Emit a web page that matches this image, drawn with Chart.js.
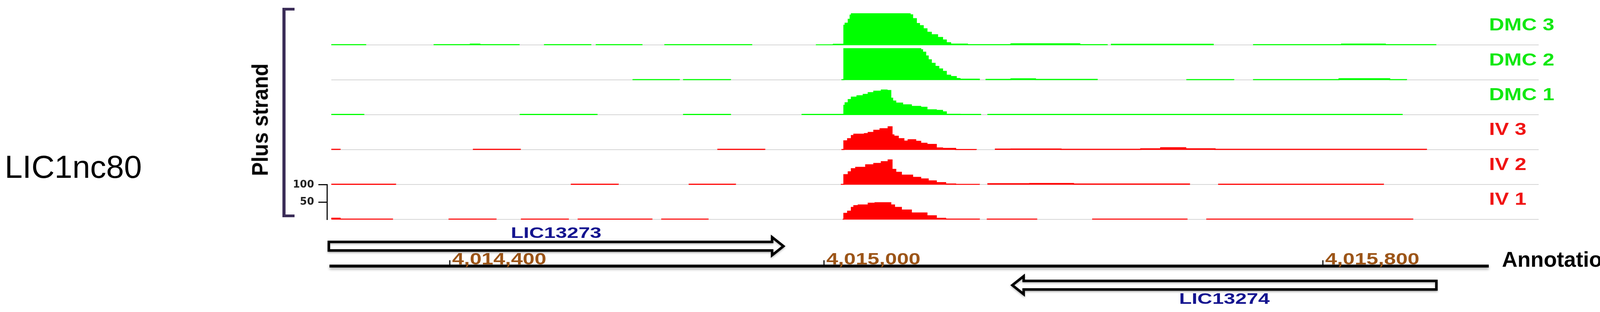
<!DOCTYPE html>
<html lang="en">
  <head>
    <meta charset="UTF-8" />
    <title>LIC1nc80 coverage</title>
    <script src="https://cdn.jsdelivr.net/npm/chart.js"></script>
    <style>
      body {
        margin: 0;
        background: #fff;
      }

      .page {
        position: relative;
        width: 4148px;
        height: 800px;
        overflow: hidden;
        font-family: "Liberation Sans", Arial, sans-serif;
      }

      .chart-box {
        position: absolute;
        left: 0;
        top: 0;
        width: 4148px;
        height: 800px;
      }

      .label {
        position: absolute;
        line-height: 1;
        white-space: nowrap;
        color: #000;
      }

      .rna-name {
        left: 12px;
        top: 387px;
        font-size: 82px;
      }

      .strand {
        left: 666px;
        top: 307px;
        font-size: 57px;
        font-weight: bold;
        transform: translate(-50%, -50%) rotate(-90deg) scaleX(0.93);
      }

      .anno {
        left: 3845px;
        top: 638px;
        font-size: 55px;
        font-weight: bold;
      }

      .bracket {
        position: absolute;
        left: 723px;
        top: 20px;
        width: 31px;
        height: 537px;
        box-sizing: border-box;
        border: 7px solid #3b2d58;
        border-left-width: 8px;
        border-right: none;
      }
    </style>
  </head>
  <body>
    <div class="page">
      <div class="chart-box"><canvas id="coverageChart"></canvas></div>
      <div class="label rna-name">LIC1nc80</div>
      <div class="label strand">Plus strand</div>
      <div class="bracket"></div>
      <div class="label anno">Annotation</div>
    </div>

    <script>
      // Region shown and annotation
      const viewStart = 4014203;
      const viewEnd = 4016146;
      const trackStart = 4014210;
      const trackEnd = 4016146;
      const axisStart = 4014207;
      const axisEnd = 4016066;
      const tickValues = [4014400, 4015000, 4015800];
      const scaleTicks = [50, 100];

      const trackNames = ["DMC 3", "DMC 2", "DMC 1", "IV 3", "IV 2", "IV 1"];

      const geneNames = ["LIC13273", "LIC13274"];
      const geneStarts = [4014206, 4015302];
      const geneEnds = [4014935, 4015982];
      const geneStrands = ["+", "-"];

      // Coverage, [position, value] steps (value holds until next position)
      const dmc3 = [
        [4014210, 1.5], [4014265, 0], [4014374, 1.5], [4014433, 3], [4014448, 1.5],
        [4014511, 0], [4014551, 1.5], [4014626, 0], [4014634, 1.5], [4014708, 0],
        [4014744, 1.5], [4014884, 0], [4014987, 1], [4015015, 2.5], [4015032, 57],
        [4015034, 63], [4015039, 74], [4015042, 86], [4015044, 90], [4015138, 87],
        [4015142, 76], [4015148, 62], [4015153, 56], [4015159, 47], [4015165, 37],
        [4015172, 30], [4015182, 22], [4015190, 15], [4015196, 7], [4015203, 3],
        [4015230, 1.5], [4015300, 4], [4015410, 1.5], [4015454, 0], [4015460, 2.5],
        [4015624, 0], [4015688, 1.5], [4015830, 3], [4015900, 1.5], [4015981, 0],
        [4016146, 0],
      ];
      const dmc2 = [
        [4014210, 0], [4014693, 1.5], [4014768, 0], [4014774, 1.5], [4014850, 0],
        [4015028, 1.5], [4015032, 90], [4015155, 87], [4015158, 80], [4015163, 69],
        [4015167, 58], [4015172, 48], [4015178, 39], [4015184, 32], [4015190, 25],
        [4015196, 14], [4015203, 10], [4015212, 4.5], [4015218, 2.5], [4015249, 0],
        [4015259, 2], [4015300, 3.5], [4015339, 2], [4015438, 0], [4015581, 1.5],
        [4015657, 0], [4015688, 1.5], [4015826, 4], [4015907, 1.5], [4015934, 0],
        [4016146, 0],
      ];
      const dmc1 = [
        [4014210, 1.5], [4014262, 0], [4014512, 1.5], [4014636, 0], [4014774, 1.5],
        [4014850, 0], [4014964, 1.5], [4015032, 27.5], [4015034, 35], [4015039, 44],
        [4015044, 51], [4015053, 55], [4015063, 59], [4015071, 64], [4015080, 68],
        [4015092, 71.5], [4015101, 70], [4015107, 48], [4015110, 40], [4015115, 34],
        [4015126, 29], [4015140, 24.5], [4015155, 22], [4015165, 14.7], [4015180, 13],
        [4015190, 9], [4015196, 2], [4015218, 1.5], [4015251, 0], [4015262, 1.5],
        [4015927, 0], [4016146, 0],
      ];
      const iv3 = [
        [4014210, 1.5], [4014224, 0], [4014437, 1.5], [4014513, 0], [4014829, 1.5],
        [4014905, 0], [4015028, 1], [4015032, 26], [4015038, 32], [4015044, 41],
        [4015048, 45], [4015065, 46.5], [4015071, 50], [4015080, 56], [4015090, 60.5],
        [4015103, 66], [4015109, 43], [4015112, 39], [4015119, 32], [4015128, 25],
        [4015135, 29], [4015147, 24.5], [4015155, 19], [4015165, 15.4], [4015180, 5.5],
        [4015190, 4], [4015211, 1], [4015244, 0], [4015274, 2], [4015300, 2.5],
        [4015380, 1.5], [4015508, 3], [4015540, 6], [4015580, 3], [4015627, 1.5],
        [4015966, 0], [4016146, 0],
      ];
      const iv2 = [
        [4014210, 1.5], [4014313, 0], [4014594, 1.5], [4014670, 0], [4014783, 1.5],
        [4014858, 0], [4015027, 1], [4015032, 29], [4015039, 37], [4015044, 46],
        [4015051, 50], [4015067, 57], [4015080, 61], [4015092, 66], [4015103, 71],
        [4015109, 44], [4015115, 35.5], [4015124, 27.5], [4015142, 21], [4015155, 16.5],
        [4015167, 11], [4015180, 6], [4015195, 2], [4015211, 1], [4015249, 0],
        [4015262, 3], [4015330, 3.5], [4015400, 2], [4015586, 0], [4015632, 1.5],
        [4015897, 0], [4016146, 0],
      ];
      const iv1 = [
        [4014210, 4], [4014224, 1.5], [4014308, 0], [4014398, 1.5], [4014474, 0],
        [4014514, 1.5], [4014590, 0], [4014605, 1.5], [4014724, 0], [4014739, 1.5],
        [4014814, 0], [4015030, 1], [4015032, 18], [4015038, 24], [4015044, 35],
        [4015048, 40], [4015055, 42], [4015071, 47], [4015082, 48.4], [4015107, 42],
        [4015113, 35], [4015124, 27.5], [4015140, 19], [4015165, 11], [4015180, 3.7],
        [4015195, 1.5], [4015249, 0], [4015261, 1.5], [4015341, 0], [4015430, 1.5],
        [4015582, 0], [4015613, 1.5], [4015944, 0], [4016146, 0],
      ];

      const tracks = [dmc3, dmc2, dmc1, iv3, iv2, iv1];

      // Styles
      const GREEN = "#00ff00";
      const RED = "#ff0000";
      const trackColors = [GREEN, GREEN, GREEN, RED, RED, RED];
      const labelColors = ["#12e812", "#12e812", "#12e812", "#f01414", "#f01414", "#f01414"];
      const BASE_GREY = "#c8c8c8";
      const TICK_BROWN = "#9c5518";
      const GENE_BLUE = "#14148f";
      const FONT = '"Liberation Sans", Arial, sans-serif';

      const axisIds = trackNames.map((_, i) => "y" + i);

      // Datasets: grey zero line under each track, coloured coverage on top
      const datasets = [];
      tracks.forEach((track, i) => {
        datasets.push({
          data: [
            { x: trackStart, y: 0 },
            { x: trackEnd, y: 0 },
          ],
          yAxisID: axisIds[i],
          borderColor: BASE_GREY,
          borderWidth: 3,
          pointRadius: 0,
          fill: false,
          order: 2,
        });
        datasets.push({
          label: trackNames[i],
          data: track.map(([x, y]) => ({ x, y })),
          yAxisID: axisIds[i],
          stepped: true,
          fill: "origin",
          backgroundColor: trackColors[i],
          borderColor: trackColors[i],
          borderWidth: 3,
          pointRadius: 0,
          order: 1,
          segment: {
            borderColor: (ctx) =>
              ctx.p0.parsed.y === 0 ? "rgba(0,0,0,0)" : trackColors[i],
          },
        });
      });

      // Stacked y axes, one per track (left stack fills from the last defined)
      const scales = {
        x: { type: "linear", min: viewStart, max: viewEnd, display: false },
      };
      for (let i = axisIds.length - 1; i >= 0; i--) {
        const isScaleBar = i === axisIds.length - 1;
        scales[axisIds[i]] = {
          type: "linear",
          position: "left",
          stack: "tracks",
          stackWeight: 1,
          min: 0,
          max: 100,
          display: isScaleBar,
          afterBuildTicks: (scale) => {
            scale.ticks = scaleTicks.map((value) => ({ value }));
          },
          afterFit: (scale) => {
            scale.width = isScaleBar ? 110 : 0;
          },
          ticks: {
            color: "#222",
            padding: 11,
            font: { family: '"DejaVu Sans"', size: 26, weight: "bold" },
          },
          grid: {
            drawOnChartArea: false,
            drawTicks: true,
            tickLength: 22,
            tickWidth: 3,
            tickColor: "#111",
          },
          border: { display: true, color: "#111", width: 3 },
        };
      }

      const stretchText = (ctx, text, x, y, sx, align) => {
        ctx.save();
        ctx.translate(x, y);
        ctx.scale(sx, 1);
        ctx.textAlign = align;
        ctx.fillText(text, 0, 0);
        ctx.restore();
      };

      const drawGene = (ctx, x0, x1, strand, mid) => {
        const half = 11;
        const head = 12;
        const headLen = 29;
        ctx.beginPath();
        if (strand === "+") {
          const b = x1 - headLen;
          ctx.moveTo(x0, mid - half);
          ctx.lineTo(b, mid - half);
          ctx.lineTo(b, mid - half - head);
          ctx.lineTo(x1, mid);
          ctx.lineTo(b, mid + half + head);
          ctx.lineTo(b, mid + half);
          ctx.lineTo(x0, mid + half);
        } else {
          const b = x0 + headLen;
          ctx.moveTo(x1, mid - half);
          ctx.lineTo(b, mid - half);
          ctx.lineTo(b, mid - half - head);
          ctx.lineTo(x0, mid);
          ctx.lineTo(b, mid + half + head);
          ctx.lineTo(b, mid + half);
          ctx.lineTo(x1, mid + half);
        }
        ctx.closePath();
        ctx.fillStyle = "#fff";
        ctx.fill();
        ctx.strokeStyle = "#000";
        ctx.lineWidth = 6.5;
        ctx.lineJoin = "miter";
        ctx.stroke();
      };

      // Track names, genomic axis and genes under the tracks
      const annotationTrack = {
        id: "annotationTrack",
        afterDraw(chart) {
          const { ctx, chartArea } = chart;
          const xs = chart.scales.x;
          const base = chartArea.bottom;

          ctx.save();
          ctx.textBaseline = "middle";
          ctx.font = `bold 44px ${FONT}`;
          axisIds.forEach((id, i) => {
            const ys = chart.scales[id];
            ctx.fillStyle = labelColors[i];
            stretchText(ctx, trackNames[i], chartArea.right - 127, ys.getPixelForValue(56), 1.22, "left");
          });
          ctx.restore();

          // axis line with soft shadow
          ctx.save();
          ctx.shadowColor = "rgba(0,0,0,0.3)";
          ctx.shadowBlur = 6;
          ctx.shadowOffsetY = 5;
          ctx.strokeStyle = "#000";
          ctx.lineWidth = 7.5;
          ctx.beginPath();
          ctx.moveTo(xs.getPixelForValue(axisStart), base + 119);
          ctx.lineTo(xs.getPixelForValue(axisEnd), base + 119);
          ctx.stroke();
          ctx.restore();

          ctx.save();
          ctx.strokeStyle = "#111";
          ctx.lineWidth = 3;
          ctx.fillStyle = TICK_BROWN;
          ctx.font = `bold 42px ${FONT}`;
          ctx.textBaseline = "alphabetic";
          tickValues.forEach((v) => {
            const px = xs.getPixelForValue(v);
            ctx.beginPath();
            ctx.moveTo(px, base + 104);
            ctx.lineTo(px, base + 116);
            ctx.stroke();
            stretchText(ctx, v.toLocaleString("en-US"), px + 6, base + 115, 1.29, "left");
          });
          ctx.restore();

          geneNames.forEach((name, i) => {
            const x0 = xs.getPixelForValue(geneStarts[i]);
            const x1 = xs.getPixelForValue(geneEnds[i]);
            const plus = geneStrands[i] === "+";
            const mid = plus ? base + 68 : base + 168;
            ctx.save();
            ctx.shadowColor = "rgba(0,0,0,0.25)";
            ctx.shadowBlur = 5;
            ctx.shadowOffsetY = 3;
            drawGene(ctx, x0, x1, geneStrands[i], mid);
            ctx.restore();

            ctx.save();
            ctx.fillStyle = GENE_BLUE;
            ctx.font = `bold 38px ${FONT}`;
            ctx.textBaseline = "alphabetic";
            stretchText(ctx, name, (x0 + x1) / 2, plus ? base + 47 : base + 216, 1.39, "center");
            ctx.restore();
          });
        },
      };

      new Chart(document.getElementById("coverageChart"), {
        type: "line",
        data: { datasets },
        options: {
          responsive: true,
          maintainAspectRatio: false,
          animation: false,
          events: [],
          layout: {
            padding: { left: 727, right: 209, top: 18, bottom: 236.7 },
          },
          plugins: {
            legend: { display: false },
            tooltip: { enabled: false },
          },
          scales,
        },
        plugins: [annotationTrack],
      });
    </script>
  </body>
</html>
